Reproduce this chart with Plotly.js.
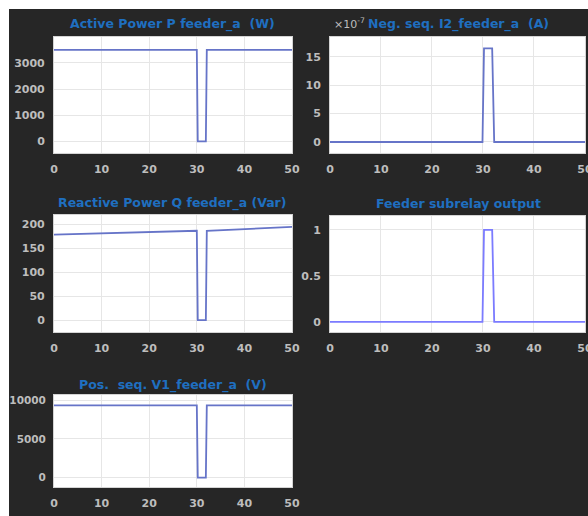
<!DOCTYPE html>
<html>
<head>
<meta charset="utf-8">
<script src="https://cdn.plot.ly/plotly-3.0.1.min.js"></script>
<style>
html,body{margin:0;padding:0;background:#ffffff;width:588px;height:516px;overflow:hidden;}
#chart{position:absolute;left:9px;top:9px;width:579px;height:507px;}
</style>
</head>
<body>
<div id="chart"></div>
<script>
// time samples (s)
const timeP = [0, 30, 30.2, 31.9, 32.1, 50];
const activeP = [3500, 3500, 0, 0, 3500, 3500];
const timeI2 = [0, 29.9, 30.2, 31.8, 32.2, 50];
const negSeqI2 = [0, 0, 16.5e-7, 16.5e-7, 0, 0];
const timeQ = [0, 30, 30.2, 31.9, 32.1, 50];
const reactiveQ = [179, 187, 0, 0, 187, 195];
const timeRelay = [0, 29.9, 30.2, 31.8, 32.2, 50];
const relayOut = [0, 0, 1, 1, 0, 0];
const timeV1 = [0, 30, 30.2, 31.9, 32.1, 50];
const posSeqV1 = [9300, 9300, 0, 0, 9300, 9300];

const xTicks = [0, 10, 20, 30, 40, 50];
const i2TickVals = [0, 5e-7, 10e-7, 15e-7];
const i2TickText = ['0', '5', '10', '15'];
const v1TickVals = [0, 5000, 10000];
const v1TickText = ['0', '5000', '10000'];

const titles = [
  'Active Power P feeder_a  (W)',
  'Neg. seq. I2_feeder_a  (A)',
  'Reactive Power Q feeder_a (Var)',
  'Feeder subrelay output',
  'Pos.  seq. V1_feeder_a  (V)'
];

const lineA = '#6674c8';
const lineB = '#7b7bff';

const traces = [
  {x: timeP, y: activeP, xaxis: 'x', yaxis: 'y', line: {color: lineA, width: 1.8}},
  {x: timeI2, y: negSeqI2, xaxis: 'x2', yaxis: 'y2', line: {color: lineA, width: 1.8}},
  {x: timeQ, y: reactiveQ, xaxis: 'x3', yaxis: 'y3', line: {color: lineA, width: 1.8}},
  {x: timeRelay, y: relayOut, xaxis: 'x4', yaxis: 'y4', line: {color: lineB, width: 1.8}},
  {x: timeV1, y: posSeqV1, xaxis: 'x5', yaxis: 'y5', line: {color: lineA, width: 1.8}}
].map(t => Object.assign({type: 'scatter', mode: 'lines', hoverinfo: 'skip'}, t));

const tickFont = {family: 'DejaVu Sans', size: 11, color: '#bdbdbd', weight: 'bold'};

function xa(domain, anchor) {
  return {domain: domain, anchor: anchor, range: [0, 50], tickvals: xTicks,
    showgrid: true, gridcolor: '#e6e6e6', gridwidth: 1, zeroline: false,
    showline: true, mirror: true, linecolor: '#d4d4d4', linewidth: 1,
    ticks: '', ticklabelstandoff: 6, ticklabeloverflow: 'allow', tickfont: tickFont, fixedrange: true};
}
function ya(domain, anchor, range, extra) {
  return Object.assign({domain: domain, anchor: anchor, range: range,
    showgrid: true, gridcolor: '#e6e6e6', gridwidth: 1, zeroline: false,
    showline: true, mirror: true, linecolor: '#d4d4d4', linewidth: 1,
    ticks: '', ticklabelstandoff: 6, ticklabeloverflow: 'allow', tickfont: tickFont, fixedrange: true}, extra || {});
}

const L = [0.0777, 0.4888];
const R = [0.5544, 0.9948];
const row1 = [0.7160, 0.9448];
const row2l = [0.3629, 0.5937];
const row2r = [0.3629, 0.5917];
const row3 = [0.0572, 0.2387];

const titleFont = {family: 'DejaVu Sans', size: 12.5, color: '#1f6fc0', weight: 'bold'};
const titlePos = [[0.2832, 0.970], [0.7755, 0.970], [0.2832, 0.617], [0.7755, 0.617], [0.2832, 0.259]];

const annotations = titles.map((t, i) => ({
  text: t, xref: 'paper', yref: 'paper', x: titlePos[i][0], y: titlePos[i][1],
  xanchor: 'center', yanchor: 'middle', showarrow: false, font: titleFont
}));
annotations.push({
  text: '×10<sup>-7</sup>', xref: 'paper', yref: 'paper', x: 0.557, y: 0.972,
  xanchor: 'left', yanchor: 'middle', showarrow: false,
  font: {family: 'DejaVu Sans', size: 11, color: '#bdbdbd'}
});

const layout = {
  width: 579, height: 507,
  margin: {l: 0, r: 0, t: 0, b: 0},
  paper_bgcolor: '#262626', plot_bgcolor: '#ffffff',
  showlegend: false,
  xaxis: xa(L, 'y'),
  yaxis: ya(row1, 'x', [-440, 3990], {tickvals: [0, 1000, 2000, 3000]}),
  xaxis2: xa(R, 'y2'),
  yaxis2: ya(row1, 'x2', [-1.94e-7, 18.5e-7], {tickvals: i2TickVals, ticktext: i2TickText}),
  xaxis3: xa(L, 'y3'),
  yaxis3: ya(row2l, 'x3', [-25, 220], {tickvals: [0, 50, 100, 150, 200]}),
  xaxis4: xa(R, 'y4'),
  yaxis4: ya(row2r, 'x4', [-0.11, 1.15], {tickvals: [0, 0.5, 1]}),
  xaxis5: xa(L, 'y5'),
  yaxis5: ya(row3, 'x5', [-1210, 10650], {tickvals: v1TickVals, ticktext: v1TickText,
    ticklabelstandoff: 5, tickfont: Object.assign({}, tickFont, {size: 10.5})}),
  annotations: annotations
};

Plotly.newPlot('chart', traces, layout, {displayModeBar: false, staticPlot: true});
</script>
</body>
</html>
